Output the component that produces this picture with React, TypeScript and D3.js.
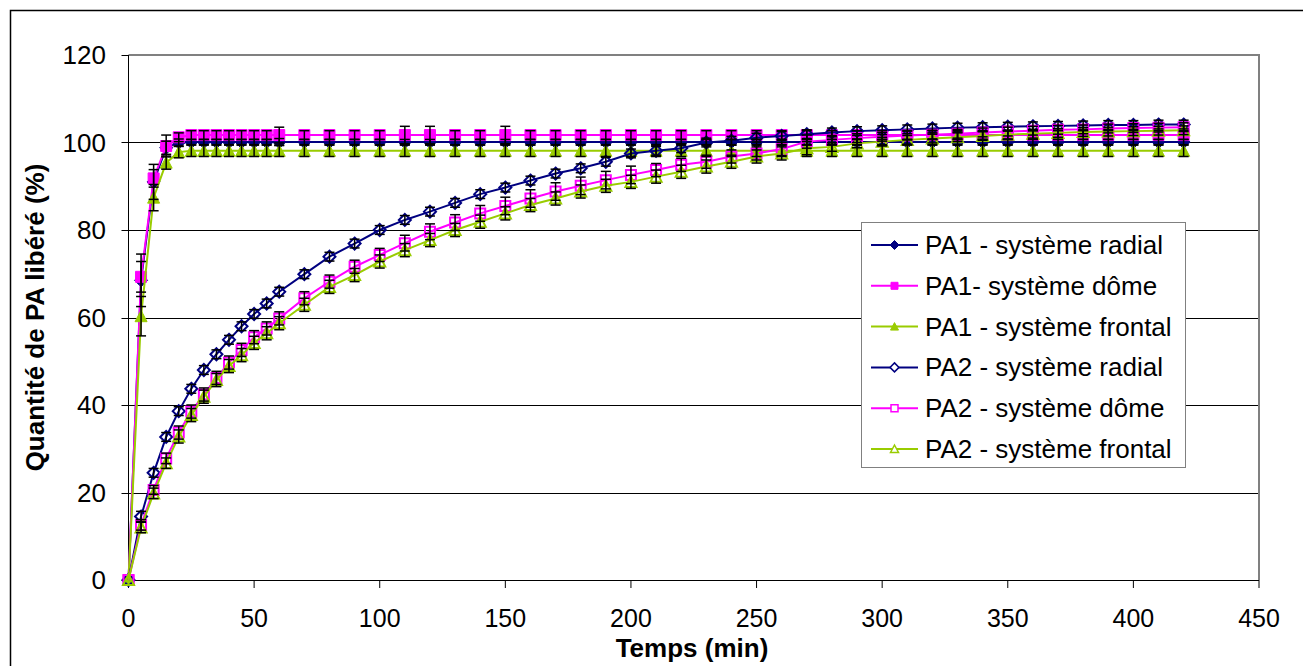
import React from "react";
import * as d3 from "d3";

// ---------- DATA ----------
const times = [0, 5, 10, 15, 20, 25, 30, 35, 40, 45, 50, 55, 60, 70, 80, 90, 100, 110, 120, 130, 140, 150, 160, 170, 180, 190, 200, 210, 220, 230, 240, 250, 260, 270, 280, 290, 300, 310, 320, 330, 340, 350, 360, 370, 380, 390, 400, 410, 420];

const pa1Radial = [0, 68.5, 91, 98.8, 100, 100.1, 100.1, 100.1, 100.1, 100.1, 100.1, 100.1, 100.1, 100.1, 100.1, 100.1, 100.1, 100.1, 100.1, 100.1, 100.1, 100.1, 100.1, 100.1, 100.1, 100.1, 100.1, 100.1, 100.1, 100.1, 100.1, 100.1, 100.1, 100.1, 100.1, 100.1, 100.1, 100.1, 100.1, 100.1, 100.1, 100.1, 100.1, 100.1, 100.1, 100.1, 100.1, 100.1, 100.1];
const pa1Dome = [0, 69.3, 91.8, 99.2, 101.2, 101.7, 101.7, 101.7, 101.7, 101.7, 101.7, 101.7, 101.7, 101.7, 101.7, 101.7, 101.7, 101.7, 101.7, 101.7, 101.7, 101.7, 101.7, 101.7, 101.7, 101.7, 101.7, 101.7, 101.7, 101.7, 101.7, 101.7, 101.7, 101.7, 101.7, 101.7, 101.7, 101.7, 101.7, 101.7, 101.7, 101.7, 101.7, 101.7, 101.7, 101.7, 101.7, 101.7, 101.7];
const pa1Frontal = [0, 60.3, 87.4, 95.4, 97.8, 98.1, 98.1, 98.1, 98.1, 98.1, 98.1, 98.1, 98.1, 98.1, 98.1, 98.1, 98.1, 98.1, 98.1, 98.1, 98.1, 98.1, 98.1, 98.1, 98.1, 98.1, 98.1, 98.1, 98.1, 98.1, 98.1, 98.1, 98.1, 98.1, 98.1, 98.1, 98.1, 98.1, 98.1, 98.1, 98.1, 98.1, 98.1, 98.1, 98.1, 98.1, 98.1, 98.1, 98.1];
const pa2Radial = [0, 14.5, 24.5, 32.7, 38.6, 43.7, 48, 51.6, 54.9, 58, 60.8, 63.2, 65.9, 69.9, 73.9, 76.9, 80, 82.3, 84.2, 86.2, 88.2, 89.7, 91.3, 92.9, 94.1, 95.6, 97.5, 98.1, 98.7, 100, 100.4, 101.1, 101.5, 101.9, 102.3, 102.6, 102.8, 103, 103.2, 103.4, 103.5, 103.6, 103.7, 103.8, 103.9, 104, 104, 104.1, 104.1];
const pa2Dome = [0, 12.6, 20.6, 27.8, 33.7, 38.5, 42.4, 46.2, 49.7, 52.6, 55.5, 57.5, 59.8, 64.4, 68.2, 71.6, 74.3, 77, 79.6, 81.7, 83.8, 85.5, 87.2, 88.8, 90.1, 91.4, 92.6, 93.7, 94.9, 95.6, 96.8, 97.5, 98.5, 100.2, 100.6, 101, 101.3, 101.6, 101.8, 102, 102.3, 102.5, 102.7, 102.9, 103, 103.2, 103.3, 103.4, 103.5];
const pa2Frontal = [0, 12, 19.8, 26.7, 32.8, 37.7, 41.9, 45.7, 48.9, 51.4, 54.2, 56.4, 58.7, 62.9, 67, 69.7, 72.8, 75.4, 77.7, 80, 81.9, 83.8, 85.7, 87.2, 88.8, 90.1, 91, 92.2, 93.3, 94.5, 95.6, 96.8, 97.5, 98.7, 99, 99.8, 100.2, 100.6, 100.9, 101.2, 101.5, 101.8, 102, 102.2, 102.4, 102.5, 102.6, 102.7, 102.8];

// standard deviations (error bars)
const pa1RadialErr = [0, 6, 4, 1.5, 0.8, 0.6, 0.6, 0.6, 0.6, 0.6, 0.6, 0.6, 0.8, 0.6, 0.6, 0.6, 0.6, 0.6, 0.6, 0.6, 0.6, 0.6, 0.6, 0.6, 0.6, 0.6, 0.6, 0.6, 0.6, 0.6, 0.6, 0.6, 0.6, 0.6, 0.6, 0.6, 0.6, 0.6, 0.6, 0.6, 0.6, 0.6, 0.6, 0.6, 0.6, 0.6, 0.6, 0.6, 0.6];
const pa1DomeErr = [0, 3.5, 2, 2.5, 1, 1, 1, 1, 1, 1, 1, 1, 1.8, 1, 1, 1, 1, 2, 2, 1, 1, 2, 1, 1, 1, 1, 1, 1, 1, 1, 1, 1, 1, 1, 1, 1, 1, 1, 1, 1, 1, 1, 1, 1, 1, 1, 1, 1, 1];
const pa1FrontalErr = [0, 4.5, 3, 1.5, 1.3, 1.3, 1.3, 1.3, 1.3, 1.3, 1.3, 1.3, 1.3, 1.3, 1.3, 1.3, 1.3, 1.3, 1.3, 1.3, 1.3, 1.3, 1.3, 1.3, 1.3, 1.3, 1.3, 1.3, 1.3, 1.3, 1.3, 1.3, 1.3, 1.3, 1.3, 1.3, 1.3, 1.3, 1.3, 1.3, 1.3, 1.3, 1.3, 1.3, 1.3, 1.3, 1.3, 1.3, 1.3];
const pa2RadialErr = [0, 1.2, 1, 1, 1, 1, 1, 1, 1, 1, 1, 1, 1, 1, 1, 1, 1, 1, 1, 1, 1, 1, 1, 1, 1, 1, 1, 1, 1, 1, 1, 1, 1, 1, 1, 1, 1, 1, 1, 1, 1, 1, 1, 1, 1, 1, 1, 1, 1];
const pa2DomeErr = [0, 1.2, 1, 1.2, 1.5, 1.5, 1.5, 1.5, 1.5, 1.5, 1.5, 1.5, 1.5, 1.5, 1.5, 1.5, 1.5, 1.8, 1.8, 1.8, 1.8, 2, 2, 2, 2, 2, 2, 1.5, 1.5, 1.5, 1.5, 1.5, 1.5, 1.5, 1, 1, 1, 1, 1, 1, 1, 1, 1, 1, 1, 1, 1, 1, 1];
const pa2FrontalErr = [0, 1.2, 1.2, 1.2, 1.5, 1.5, 1.5, 1.5, 1.5, 1.5, 1.5, 1.5, 1.5, 1.5, 1.5, 1.5, 1.5, 1.5, 1.5, 1.5, 1.5, 1.5, 1.5, 1.5, 1.5, 1.5, 1.5, 1.5, 1.5, 1.5, 1.5, 1.5, 1.5, 1.5, 1, 1, 1, 1, 1, 1, 1, 1, 1, 1, 1, 1, 1, 1, 1];

const seriesNames = [
  "PA1 - système radial",
  "PA1- système dôme",
  "PA1 - système frontal",
  "PA2 - système radial",
  "PA2 - système dôme",
  "PA2 - système frontal",
];
const xTicks = [0, 50, 100, 150, 200, 250, 300, 350, 400, 450];
const yTicks = [0, 20, 40, 60, 80, 100, 120];
const xTitle = "Temps (min)";
const yTitle = "Quantité de PA libéré (%)";

// ---------- STYLE ----------
const NAVY = "#000080";
const MAGENTA = "#FF00FF";
const GREEN = "#99CC00";
const FONT = '"Liberation Sans", Arial, Helvetica, sans-serif';

type Marker = "diamond" | "square" | "triangle";
interface Series {
  name: string;
  values: number[];
  errors: number[];
  color: string;
  marker: Marker;
  filled: boolean;
}

const series: Series[] = [
  { name: seriesNames[0], values: pa1Radial, errors: pa1RadialErr, color: NAVY, marker: "diamond", filled: true },
  { name: seriesNames[1], values: pa1Dome, errors: pa1DomeErr, color: MAGENTA, marker: "square", filled: true },
  { name: seriesNames[2], values: pa1Frontal, errors: pa1FrontalErr, color: GREEN, marker: "triangle", filled: true },
  { name: seriesNames[3], values: pa2Radial, errors: pa2RadialErr, color: NAVY, marker: "diamond", filled: false },
  { name: seriesNames[4], values: pa2Dome, errors: pa2DomeErr, color: MAGENTA, marker: "square", filled: false },
  { name: seriesNames[5], values: pa2Frontal, errors: pa2FrontalErr, color: GREEN, marker: "triangle", filled: false },
];

function markerPath(m: Marker, s: number): string {
  const h = s / 2;
  if (m === "diamond") return `M0,${-h - 1}L${h + 1},0L0,${h + 1}L${-h - 1},0Z`;
  if (m === "square") return `M${-h},${-h}L${h},${-h}L${h},${h}L${-h},${h}Z`;
  return `M0,${-h - 0.5}L${h + 0.5},${h}L${-h - 0.5},${h}Z`;
}

const W = 1303;
const H = 666;
const PLOT = { left: 128.5, right: 1259, top: 55, bottom: 580 };

export default function App() {
  const x = d3.scaleLinear().domain([0, 450]).range([PLOT.left, PLOT.right]);
  const y = d3.scaleLinear().domain([0, 120]).range([PLOT.bottom, PLOT.top]);

  const line = d3
    .line<[number, number]>()
    .x((d) => x(d[0]))
    .y((d) => y(d[1]));

  const legend = { x: 861, y: 222, w: 324, h: 245, rowStart: 245, rowStep: 40.8 };

  return (
    <svg
      width={W}
      height={H}
      style={{ position: "absolute", left: 0, top: 0, background: "#fff" }}
      fontFamily={FONT}
    >
      {/* outer chart frame */}
      <rect x={10.5} y={10.5} width={W + 20} height={H + 20} fill="#fff" stroke="#000" strokeWidth={1.5} />

      {/* gridlines */}
      {yTicks
        .filter((t) => t > 0 && t < 120)
        .map((t) => (
          <line
            key={"g" + t}
            x1={PLOT.left}
            x2={PLOT.right}
            y1={Math.round(y(t)) + 0.5}
            y2={Math.round(y(t)) + 0.5}
            stroke="#000"
            strokeWidth={1}
          />
        ))}
      {/* plot area border (top/right grey) */}
      <polyline
        points={`${PLOT.left},${PLOT.top} ${PLOT.right},${PLOT.top} ${PLOT.right},${PLOT.bottom}`}
        fill="none"
        stroke="#808080"
        strokeWidth={2}
      />

      {/* axes */}
      <line x1={PLOT.left} x2={PLOT.left} y1={PLOT.top} y2={PLOT.bottom} stroke="#000" strokeWidth={1} />
      <line x1={PLOT.left} x2={PLOT.right} y1={PLOT.bottom + 0.5} y2={PLOT.bottom + 0.5} stroke="#000" strokeWidth={1} />
      {yTicks.map((t) => (
        <g key={"yt" + t}>
          <line x1={PLOT.left - 7} x2={PLOT.left} y1={Math.round(y(t)) + 0.5} y2={Math.round(y(t)) + 0.5} stroke="#000" />
          <text x={106} y={y(t)} textAnchor="end" dominantBaseline="central" fontSize={26} fill="#000">
            {t}
          </text>
        </g>
      ))}
      {xTicks.map((t) => (
        <g key={"xt" + t}>
          <line x1={x(t)} x2={x(t)} y1={PLOT.bottom} y2={PLOT.bottom + 8} stroke="#000" />
          <text x={x(t)} y={618} textAnchor="middle" dominantBaseline="central" fontSize={25} fill="#000">
            {t}
          </text>
        </g>
      ))}

      {/* axis titles */}
      <text x={692} y={648} textAnchor="middle" dominantBaseline="central" fontSize={26} fontWeight="bold">
        {xTitle}
      </text>
      <text
        transform={`translate(35,${(PLOT.top + PLOT.bottom) / 2}) rotate(-90)`}
        textAnchor="middle"
        dominantBaseline="central"
        fontSize={26}
        fontWeight="bold"
      >
        {yTitle}
      </text>

      {/* series lines + markers */}
      {series.map((s, si) => {
        const pts: [number, number][] = times.map((t, i) => [t, s.values[i]]);
        return (
          <g key={"s" + si}>
            <path d={line(pts) || ""} fill="none" stroke={s.color} strokeWidth={2} />
            {pts.map((p, i) => (
              <path
                key={i}
                transform={`translate(${x(p[0])},${y(p[1])})`}
                d={markerPath(s.marker, s.filled ? 11 : 10)}
                fill={s.filled ? s.color : "none"}
                stroke={s.color}
                strokeWidth={s.filled ? 1 : 2}
              />
            ))}
          </g>
        );
      })}

      {/* error bars */}
      {series.map((s, si) => (
        <g key={"e" + si} stroke="#000" strokeWidth={1.5}>
          {times.map((t, i) => {
            const e = s.errors[i];
            if (!e) return null;
            const cx = x(t);
            const y1 = y(s.values[i] + e);
            const y0 = y(s.values[i] - e);
            return (
              <g key={i}>
                <line x1={cx} x2={cx} y1={y1} y2={y0} />
                <line x1={cx - 5} x2={cx + 5} y1={y1} y2={y1} />
                <line x1={cx - 5} x2={cx + 5} y1={y0} y2={y0} />
              </g>
            );
          })}
        </g>
      ))}

      {/* legend */}
      <rect x={legend.x + 0.5} y={legend.y + 0.5} width={legend.w} height={legend.h} fill="#fff" stroke="#808080" strokeWidth={1} />
      {series.map((s, i) => {
        const cy = legend.rowStart + i * legend.rowStep;
        return (
          <g key={"l" + i}>
            <line x1={871} x2={918} y1={cy} y2={cy} stroke={s.color} strokeWidth={2} />
            <path
              transform={`translate(894.5,${cy})`}
              d={markerPath(s.marker, 7)}
              fill={s.filled ? s.color : "#fff"}
              stroke={s.color}
              strokeWidth={s.filled ? 1 : 1.5}
            />
            <text x={925} y={cy} dominantBaseline="central" fontSize={26} fill="#000">
              {s.name}
            </text>
          </g>
        );
      })}
    </svg>
  );
}
